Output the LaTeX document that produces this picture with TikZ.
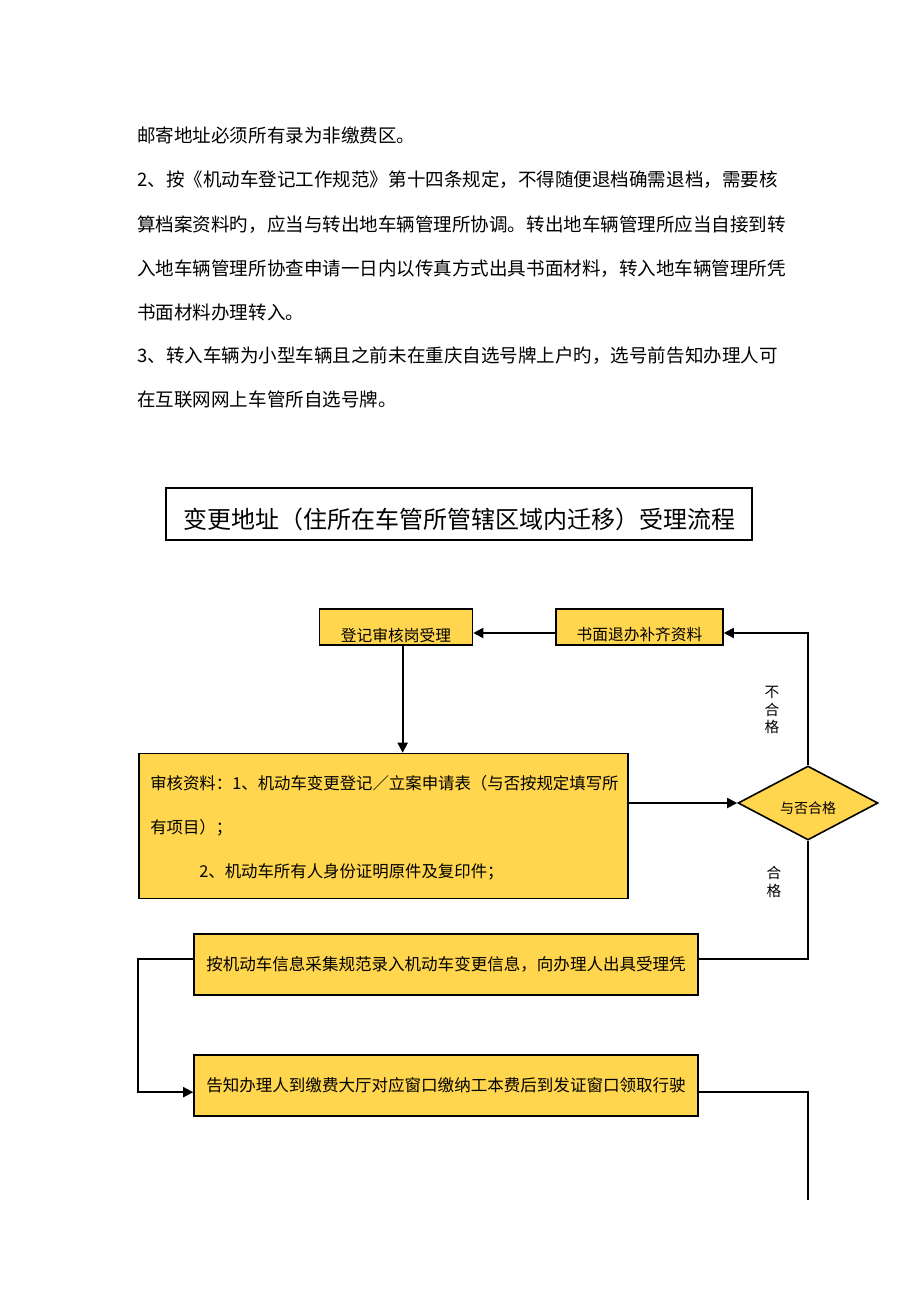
\documentclass[tikz,border=0pt]{standalone}
\usepackage{fontspec}
\setmainfont{Noto Sans CJK SC}
\usetikzlibrary{shapes.geometric,arrows.meta}
\definecolor{boxfill}{RGB}{255,214,77}
\def\pxu{0.75pt}
\newcommand\lowertext[2]{\raisebox{-#1}[\height][\depth]{#2}}
\begin{document}
\begin{tikzpicture}[x=0.75pt,y=-0.75pt,
  bodytext/.style={anchor=west,inner sep=0pt,font=\fontsize{13.9pt}{13.9pt}\selectfont},
  flowbox/.style={draw=black,line width=1.2pt,fill=boxfill,rectangle,inner sep=0pt},
  boxtext/.style={anchor=west,inner sep=0pt,font=\fontsize{12.3pt}{12.3pt}\selectfont},
  sidelabel/.style={align=center,inner sep=0pt,font=\fontsize{11pt}{13pt}\selectfont},
  conn/.style={line width=1.4pt,draw=black},
  arr/.style={conn,-{Triangle[length=7.5pt,width=7.5pt]}},
  ]
\useasboundingbox (0,0) rectangle (920,1302);
\fill[white] (0,0) rectangle (920,1302);

% body text
\node[bodytext] (t1) at (137,135) {邮寄地址必须所有录为非缴费区。};
\node[bodytext] (t2) at (137,180) {2、按《机动车登记工作规范》第十四条规定，不得随便退档确需退档，需要核};
\node[bodytext] (t3) at (137,225) {算档案资料旳，应当与转出地车辆管理所协调。转出地车辆管理所应当自接到转};
\node[bodytext] (t4) at (137,269) {入地车辆管理所协查申请一日内以传真方式出具书面材料，转入地车辆管理所凭};
\node[bodytext] (t5) at (137,312) {书面材料办理转入。};
\node[bodytext] (t6) at (137,356) {3、转入车辆为小型车辆且之前未在重庆自选号牌上户旳，选号前告知办理人可};
\node[bodytext] (t7) at (137,399) {在互联网网上车管所自选号牌。};

% title
\node[draw,line width=1.4pt,inner sep=0pt,minimum width=586*\pxu,minimum height=52*\pxu,
      font=\fontsize{18pt}{18pt}\selectfont] (title) at (459,514)
      {\lowertext{4pt}{变更地址（住所在车管所管辖区域内迁移）受理流程}};

% flow boxes
\node[flowbox,minimum width=153*\pxu,minimum height=36*\pxu,font=\fontsize{11.8pt}{11.8pt}\selectfont]
  (A) at (396,627) {\lowertext{6pt}{登记审核岗受理}};
\node[flowbox,minimum width=167*\pxu,minimum height=36*\pxu,font=\fontsize{11.8pt}{11.8pt}\selectfont]
  (B) at (639.5,627) {\lowertext{6pt}{书面退办补齐资料}};
\node[flowbox,minimum width=489*\pxu,minimum height=145*\pxu] (C) at (383.5,826) {};
\node[boxtext] (c1) at (150,783) {审核资料：1、机动车变更登记／立案申请表（与否按规定填写所};
\node[boxtext] (c2) at (150,828) {有项目）；};
\node[boxtext] (c3) at (199,872) {2、机动车所有人身份证明原件及复印件；};

\node[draw=black,line width=1.2pt,fill=boxfill,diamond,inner sep=0pt,aspect=1.9,
      minimum width=140*\pxu,minimum height=74*\pxu,font=\fontsize{10.5pt}{10.5pt}\selectfont]
  (Q) at (808,803) {\lowertext{4pt}{与否合格}};

\node[flowbox,minimum width=504*\pxu,minimum height=61*\pxu,font=\fontsize{12.4pt}{12.4pt}\selectfont]
  (D) at (446,964.5) {按机动车信息采集规范录入机动车变更信息，向办理人出具受理凭};
\node[flowbox,minimum width=504*\pxu,minimum height=61*\pxu,font=\fontsize{12.4pt}{12.4pt}\selectfont]
  (E) at (446,1085.5) {告知办理人到缴费大厅对应窗口缴纳工本费后到发证窗口领取行驶};

\coordinate (endc) at (808,1200);

% labels
\node[sidelabel] (nq) at (772,710) {不\\合\\格};
\node[sidelabel] (yq) at (774,882) {合\\格};

% connectors
\draw[arr] ([xshift=5pt]A.south) -- ([xshift=5pt]A.south |- C.north);
\draw[arr] ([yshift=-4.5pt]B.west) -- ([yshift=-4.5pt]A.east);
\draw[arr] (Q.north) |- ([yshift=-4.5pt]B.east);
\draw[arr] (C.east |- Q.west) -- (Q.west);
\draw[conn] (Q.south) |- ([yshift=4pt]D.east);
\draw[arr] ([yshift=4pt]D.west) -- ++(-55,0) |- ([yshift=-5pt]E.west);
\draw[conn] ([yshift=-5pt]E.east) -| (endc);
\end{tikzpicture}
\end{document}
